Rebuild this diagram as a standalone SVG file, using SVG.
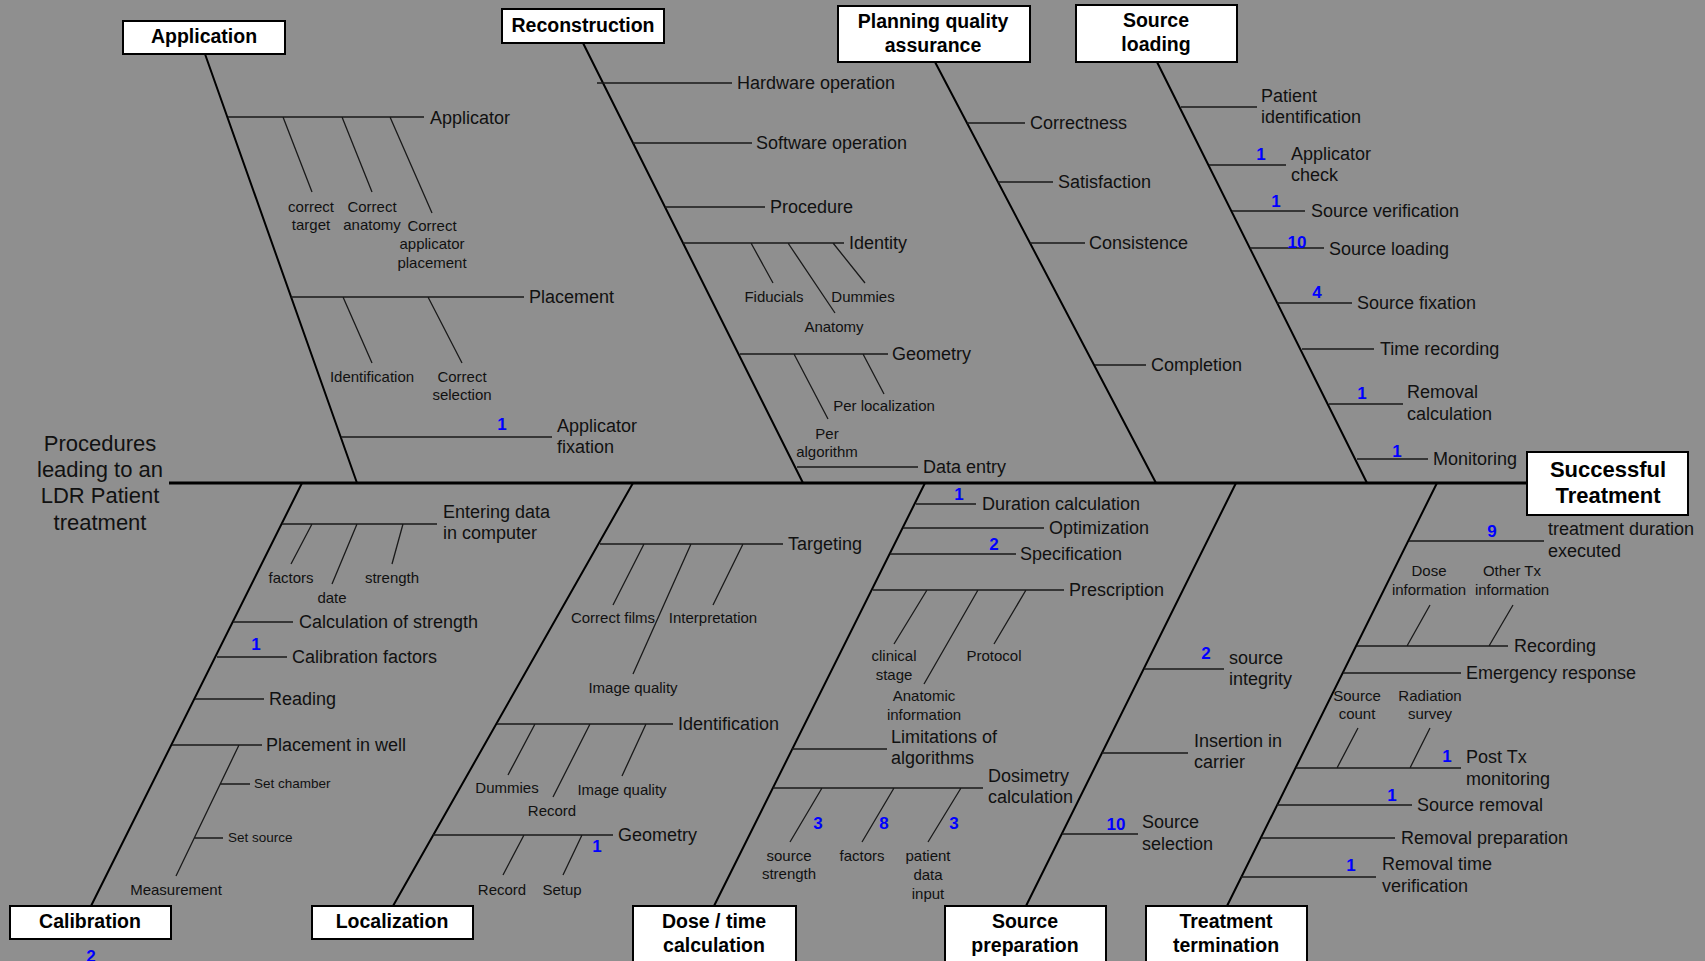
<svg xmlns="http://www.w3.org/2000/svg" width="1705" height="961" viewBox="0 0 1705 961">
<style>
.bg{fill:#8f8f8f}
.spine{stroke:#000;stroke-width:3;fill:none}
.bone{stroke:#000;stroke-width:2;fill:none}
.rib{stroke:#1a1a1a;stroke-width:1.3;fill:none}
.box{fill:#fff;stroke:#000;stroke-width:2}
.bt{font-family:"Liberation Sans",Arial,sans-serif;font-weight:bold;font-size:19.5px;fill:#000;text-anchor:middle}
.big{font-size:22px}
.lbl{font-family:"Liberation Sans",Arial,sans-serif;font-size:18px;fill:#111}
.sm{font-family:"Liberation Sans",Arial,sans-serif;font-size:15px;fill:#111;text-anchor:middle}
.xs{font-family:"Liberation Sans",Arial,sans-serif;font-size:13.5px;fill:#111}
.num{font-family:"Liberation Sans",Arial,sans-serif;font-weight:bold;font-size:17px;fill:#0000ff;text-anchor:middle}
.head{font-family:"Liberation Sans",Arial,sans-serif;font-size:22px;fill:#111;text-anchor:middle}
</style>
<rect class="bg" x="0" y="0" width="1705" height="961"/>

<g id="connectors">
<path class="spine" d="M169,483 H1527"/>
<path class="bone" d="M205,54 L357,483 M583,43 L803,483 M935,62 L1156,483 M1157,62 L1367,483 M91,906 L302,483 M393,906 L633,483 M714,906 L925,483 M1026,906 L1236,483 M1227,906 L1437,483"/>
<!-- Application -->
<path class="rib" d="M228,117 H424 M283,117 L312,192 M342,117 L372,192 M390,117 L432,213 M291,297 H524 M343,297 L372,363 M428,297 L462,363 M341,437 H552"/>
<!-- Reconstruction -->
<path class="rib" d="M597,83 H732 M633,143 H752 M665,207 H765 M683,243 H844 M751,243 L773,283 M788,243 L835,313 M833,243 L865,283 M740,354 H888 M794,354 L828,419 M863,354 L884,394 M797,467 H918"/>
<!-- Planning QA -->
<path class="rib" d="M967,123 H1025 M998,182 H1053 M1030,243 H1085 M1095,365 H1146"/>
<!-- Source loading -->
<path class="rib" d="M1181,107 H1257 M1209,165 H1286 M1232,211 H1305 M1250,248 H1324 M1277,303 H1352 M1302,349 H1374 M1329,404 H1403 M1357,459 H1428"/>
<!-- Calibration -->
<path class="rib" d="M282,524 H437 M312,524 L291,564 M357,524 L332,584 M403,524 L392,564 M233,622 H293 M217,657 H287 M195,699 H264 M172,745 H262 M239,745 L176,876 M220,784 H250 M194,838 H223"/>
<!-- Localization -->
<path class="rib" d="M600,544 H783 M644,544 L613,605 M691,544 L633,674 M743,544 L713,605 M497,724 H673 M535,724 L508,775 M590,724 L553,797 M646,724 L622,776 M433,835 H613 M524,835 L503,875 M582,835 L563,875"/>
<!-- Dose / time -->
<path class="rib" d="M916,504 H976 M903,528 H1044 M890,554 H1016 M873,590 H1064 M927,590 L894,644 M978,590 L924,684 M1026,590 L994,644 M792,749 H887 M773,788 H983 M822,788 L790,842 M894,788 L862,842 M961,788 L928,842"/>
<!-- Source preparation -->
<path class="rib" d="M1144,669 H1224 M1102,753 H1188 M1062,834 H1138"/>
<!-- Treatment termination -->
<path class="rib" d="M1409,541 H1544 M1357,646 H1508 M1407,646 L1430,605 M1489,646 L1513,605 M1343,673 H1461 M1296,768 H1461 M1337,768 L1358,728 M1410,768 L1430,728 M1277,805 H1412 M1261,838 H1395 M1241,877 H1376"/>
</g>

<g id="head-procedures">
<text class="head" x="100" y="451">Procedures</text>
<text class="head" x="100" y="477">leading to an</text>
<text class="head" x="100" y="503">LDR Patient</text>
<text class="head" x="100" y="530">treatment</text>
</g>

<g id="successful-treatment">
<rect class="box" x="1527" y="452" width="161" height="63"/>
<text class="bt big" x="1608" y="477">Successful</text>
<text class="bt big" x="1608" y="503">Treatment</text>
</g>

<g id="application">
<rect class="box" x="123" y="21" width="162" height="33"/>
<text class="bt" x="204" y="43">Application</text>
<text class="lbl" x="430" y="124">Applicator</text>
<text class="sm" x="311" y="212">correct</text><text class="sm" x="311" y="230">target</text>
<text class="sm" x="372" y="212">Correct</text><text class="sm" x="372" y="230">anatomy</text>
<text class="sm" x="432" y="231">Correct</text><text class="sm" x="432" y="249">applicator</text><text class="sm" x="432" y="268">placement</text>
<text class="lbl" x="529" y="303">Placement</text>
<text class="sm" x="372" y="382">Identification</text>
<text class="sm" x="462" y="382">Correct</text><text class="sm" x="462" y="400">selection</text>
<text class="num" x="502" y="430">1</text>
<text class="lbl" x="557" y="432">Applicator</text><text class="lbl" x="557" y="453">fixation</text>
</g>

<g id="reconstruction">
<rect class="box" x="502" y="9" width="162" height="34"/>
<text class="bt" x="583" y="32">Reconstruction</text>
<text class="lbl" x="737" y="89">Hardware operation</text>
<text class="lbl" x="756" y="149">Software operation</text>
<text class="lbl" x="770" y="213">Procedure</text>
<text class="lbl" x="849" y="249">Identity</text>
<text class="sm" x="774" y="302">Fiducials</text>
<text class="sm" x="863" y="302">Dummies</text>
<text class="sm" x="834" y="332">Anatomy</text>
<text class="lbl" x="892" y="360">Geometry</text>
<text class="sm" x="884" y="411">Per localization</text>
<text class="sm" x="827" y="439">Per</text><text class="sm" x="827" y="457">algorithm</text>
<text class="lbl" x="923" y="473">Data entry</text>
</g>

<g id="planning-qa">
<rect class="box" x="838" y="6" width="192" height="56"/>
<text class="bt" x="933" y="28">Planning quality</text>
<text class="bt" x="933" y="52">assurance</text>
<text class="lbl" x="1030" y="129">Correctness</text>
<text class="lbl" x="1058" y="188">Satisfaction</text>
<text class="lbl" x="1089" y="249">Consistence</text>
<text class="lbl" x="1151" y="371">Completion</text>
</g>

<g id="source-loading">
<rect class="box" x="1076" y="5" width="161" height="57"/>
<text class="bt" x="1156" y="27">Source</text>
<text class="bt" x="1156" y="51">loading</text>
<text class="lbl" x="1261" y="102">Patient</text><text class="lbl" x="1261" y="123">identification</text>
<text class="num" x="1261" y="160">1</text>
<text class="lbl" x="1291" y="160">Applicator</text><text class="lbl" x="1291" y="181">check</text>
<text class="num" x="1276" y="207">1</text>
<text class="lbl" x="1311" y="217">Source verification</text>
<text class="num" x="1297" y="248">10</text>
<text class="lbl" x="1329" y="255">Source loading</text>
<text class="num" x="1317" y="298">4</text>
<text class="lbl" x="1357" y="309">Source fixation</text>
<text class="lbl" x="1380" y="355">Time recording</text>
<text class="num" x="1362" y="399">1</text>
<text class="lbl" x="1407" y="398">Removal</text><text class="lbl" x="1407" y="420">calculation</text>
<text class="num" x="1397" y="457">1</text>
<text class="lbl" x="1433" y="465">Monitoring</text>
</g>

<g id="calibration">
<rect class="box" x="10" y="906" width="161" height="33"/>
<text class="bt" x="90" y="928">Calibration</text>
<text class="num" x="91" y="962">2</text>
<text class="lbl" x="443" y="518">Entering data</text><text class="lbl" x="443" y="539">in computer</text>
<text class="sm" x="291" y="583">factors</text>
<text class="sm" x="332" y="603">date</text>
<text class="sm" x="392" y="583">strength</text>
<text class="lbl" x="299" y="628">Calculation of strength</text>
<text class="num" x="256" y="650">1</text>
<text class="lbl" x="292" y="663">Calibration factors</text>
<text class="lbl" x="269" y="705">Reading</text>
<text class="lbl" x="266" y="751">Placement in well</text>
<text class="xs" x="254" y="788">Set chamber</text>
<text class="xs" x="228" y="842">Set source</text>
<text class="sm" x="176" y="895">Measurement</text>
</g>

<g id="localization">
<rect class="box" x="312" y="906" width="161" height="33"/>
<text class="bt" x="392" y="928">Localization</text>
<text class="lbl" x="788" y="550">Targeting</text>
<text class="sm" x="613" y="623">Correct films</text>
<text class="sm" x="713" y="623">Interpretation</text>
<text class="sm" x="633" y="693">Image quality</text>
<text class="lbl" x="678" y="730">Identification</text>
<text class="sm" x="507" y="793">Dummies</text>
<text class="sm" x="552" y="816">Record</text>
<text class="sm" x="622" y="795">Image quality</text>
<text class="lbl" x="618" y="841">Geometry</text>
<text class="num" x="597" y="852">1</text>
<text class="sm" x="502" y="895">Record</text>
<text class="sm" x="562" y="895">Setup</text>
</g>

<g id="dose-time">
<rect class="box" x="633" y="906" width="163" height="62"/>
<text class="bt" x="714" y="928">Dose / time</text>
<text class="bt" x="714" y="952">calculation</text>
<text class="num" x="959" y="500">1</text>
<text class="lbl" x="982" y="510">Duration calculation</text>
<text class="lbl" x="1049" y="534">Optimization</text>
<text class="num" x="994" y="550">2</text>
<text class="lbl" x="1020" y="560">Specification</text>
<text class="lbl" x="1069" y="596">Prescription</text>
<text class="sm" x="894" y="661">clinical</text><text class="sm" x="894" y="680">stage</text>
<text class="sm" x="994" y="661">Protocol</text>
<text class="sm" x="924" y="701">Anatomic</text><text class="sm" x="924" y="720">information</text>
<text class="lbl" x="891" y="743">Limitations of</text><text class="lbl" x="891" y="764">algorithms</text>
<text class="lbl" x="988" y="782">Dosimetry</text><text class="lbl" x="988" y="803">calculation</text>
<text class="num" x="818" y="829">3</text>
<text class="num" x="884" y="829">8</text>
<text class="num" x="954" y="829">3</text>
<text class="sm" x="789" y="861">source</text><text class="sm" x="789" y="879">strength</text>
<text class="sm" x="862" y="861">factors</text>
<text class="sm" x="928" y="861">patient</text><text class="sm" x="928" y="880">data</text><text class="sm" x="928" y="899">input</text>
</g>

<g id="source-preparation">
<rect class="box" x="945" y="906" width="161" height="62"/>
<text class="bt" x="1025" y="928">Source</text>
<text class="bt" x="1025" y="952">preparation</text>
<text class="num" x="1206" y="659">2</text>
<text class="lbl" x="1229" y="664">source</text><text class="lbl" x="1229" y="685">integrity</text>
<text class="lbl" x="1194" y="747">Insertion in</text><text class="lbl" x="1194" y="768">carrier</text>
<text class="num" x="1116" y="830">10</text>
<text class="lbl" x="1142" y="828">Source</text><text class="lbl" x="1142" y="850">selection</text>
</g>

<g id="treatment-termination">
<rect class="box" x="1146" y="906" width="161" height="62"/>
<text class="bt" x="1226" y="928">Treatment</text>
<text class="bt" x="1226" y="952">termination</text>
<text class="num" x="1492" y="537">9</text>
<text class="lbl" x="1548" y="535">treatment duration</text><text class="lbl" x="1548" y="557">executed</text>
<text class="sm" x="1429" y="576">Dose</text><text class="sm" x="1429" y="595">information</text>
<text class="sm" x="1512" y="576">Other Tx</text><text class="sm" x="1512" y="595">information</text>
<text class="lbl" x="1514" y="652">Recording</text>
<text class="lbl" x="1466" y="679">Emergency response</text>
<text class="sm" x="1357" y="701">Source</text><text class="sm" x="1357" y="719">count</text>
<text class="sm" x="1430" y="701">Radiation</text><text class="sm" x="1430" y="719">survey</text>
<text class="num" x="1447" y="762">1</text>
<text class="lbl" x="1466" y="763">Post Tx</text><text class="lbl" x="1466" y="785">monitoring</text>
<text class="num" x="1392" y="801">1</text>
<text class="lbl" x="1417" y="811">Source removal</text>
<text class="lbl" x="1401" y="844">Removal preparation</text>
<text class="num" x="1351" y="871">1</text>
<text class="lbl" x="1382" y="870">Removal time</text><text class="lbl" x="1382" y="892">verification</text>
</g>
</svg>
